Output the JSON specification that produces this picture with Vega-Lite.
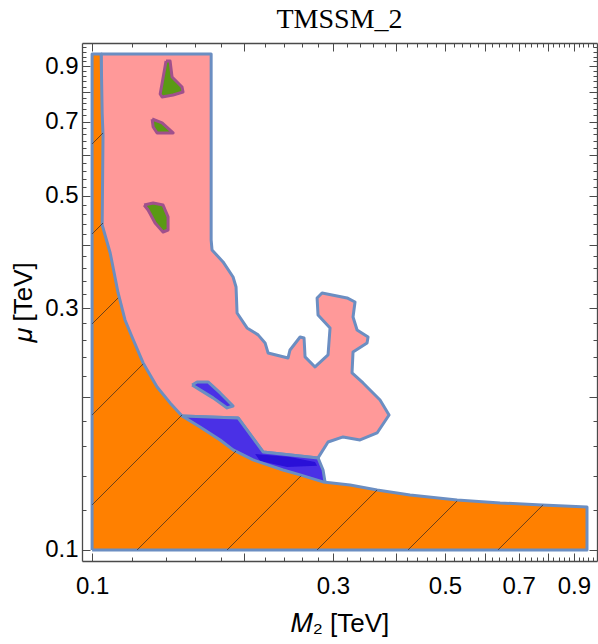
{
  "$schema": "https://vega.github.io/schema/vega-lite/v6.json",
  "autosize": "none",
  "width": 515,
  "height": 518,
  "padding": {"left": 82, "top": 43, "right": 1, "bottom": 83},
  "background": "white",
  "config": {
    "view": {"stroke": null},
    "axis": {
      "domainColor": "#4a4a4a",
      "domainWidth": 1.3,
      "tickColor": "#4a4a4a",
      "tickWidth": 1,
      "grid": false,
      "labelFont": "Liberation Sans",
      "labelFontSize": 24,
      "labelColor": "black",
      "titleFont": "Liberation Sans",
      "titleFontSize": 26,
      "titleFontWeight": "normal",
      "titleColor": "black",
      "labelOverlap": false,
      "labelFlush": false,
      "zindex": 1
    }
  },
  "title": {
    "text": "TMSSM_2",
    "font": "Liberation Serif",
    "fontSize": 28,
    "fontWeight": "normal",
    "color": "black",
    "offset": 1
  },
  "datasets": {
    "poly": [
      {"id": "pink", "i": 0, "x": 0.1042, "y": 0.9512},
      {"id": "pink", "i": 1, "x": 0.1721, "y": 0.9512},
      {"id": "pink", "i": 2, "x": 0.1721, "y": 0.4087},
      {"id": "pink", "i": 3, "x": 0.1728, "y": 0.3906},
      {"id": "pink", "i": 4, "x": 0.1817, "y": 0.3699},
      {"id": "pink", "i": 5, "x": 0.1902, "y": 0.3455},
      {"id": "pink", "i": 6, "x": 0.1928, "y": 0.3302},
      {"id": "pink", "i": 7, "x": 0.1937, "y": 0.2934},
      {"id": "pink", "i": 8, "x": 0.2027, "y": 0.2741},
      {"id": "pink", "i": 9, "x": 0.2132, "y": 0.2656},
      {"id": "pink", "i": 10, "x": 0.2201, "y": 0.2561},
      {"id": "pink", "i": 11, "x": 0.2231, "y": 0.2447},
      {"id": "pink", "i": 12, "x": 0.2444, "y": 0.2392},
      {"id": "pink", "i": 13, "x": 0.2466, "y": 0.248},
      {"id": "pink", "i": 14, "x": 0.2582, "y": 0.2631},
      {"id": "pink", "i": 15, "x": 0.2629, "y": 0.2619},
      {"id": "pink", "i": 16, "x": 0.2641, "y": 0.2403},
      {"id": "pink", "i": 17, "x": 0.2764, "y": 0.2296},
      {"id": "pink", "i": 18, "x": 0.2933, "y": 0.2425},
      {"id": "pink", "i": 19, "x": 0.296, "y": 0.2741},
      {"id": "pink", "i": 20, "x": 0.2802, "y": 0.2908},
      {"id": "pink", "i": 21, "x": 0.279, "y": 0.3141},
      {"id": "pink", "i": 22, "x": 0.2854, "y": 0.3213},
      {"id": "pink", "i": 23, "x": 0.3199, "y": 0.3141},
      {"id": "pink", "i": 24, "x": 0.3317, "y": 0.3084},
      {"id": "pink", "i": 25, "x": 0.3287, "y": 0.2881},
      {"id": "pink", "i": 26, "x": 0.3348, "y": 0.2716},
      {"id": "pink", "i": 27, "x": 0.352, "y": 0.2631},
      {"id": "pink", "i": 28, "x": 0.3504, "y": 0.2561},
      {"id": "pink", "i": 29, "x": 0.3287, "y": 0.2458},
      {"id": "pink", "i": 30, "x": 0.3272, "y": 0.2234},
      {"id": "pink", "i": 31, "x": 0.3441, "y": 0.2135},
      {"id": "pink", "i": 32, "x": 0.3718, "y": 0.1976},
      {"id": "pink", "i": 33, "x": 0.3874, "y": 0.1846},
      {"id": "pink", "i": 34, "x": 0.3668, "y": 0.1701},
      {"id": "pink", "i": 35, "x": 0.3394, "y": 0.1648},
      {"id": "pink", "i": 36, "x": 0.3141, "y": 0.1671},
      {"id": "pink", "i": 37, "x": 0.2933, "y": 0.1633},
      {"id": "pink", "i": 38, "x": 0.2802, "y": 0.1519},
      {"id": "pink", "i": 39, "x": 0.2181, "y": 0.1561},
      {"id": "pink", "i": 40, "x": 0.1946, "y": 0.1821},
      {"id": "pink", "i": 41, "x": 0.1507, "y": 0.1838},
      {"id": "pink", "i": 42, "x": 0.1042, "y": 0.1838},
      {"id": "pink", "i": 43, "x": 0.1042, "y": 0.9512},

      {"id": "blue1", "i": 0, "x": 0.1507, "y": 0.1838},
      {"id": "blue1", "i": 1, "x": 0.1946, "y": 0.1821},
      {"id": "blue1", "i": 2, "x": 0.2181, "y": 0.1561},
      {"id": "blue1", "i": 3, "x": 0.2802, "y": 0.1519},
      {"id": "blue1", "i": 4, "x": 0.2867, "y": 0.1438},
      {"id": "blue1", "i": 5, "x": 0.2893, "y": 0.1362},
      {"id": "blue1", "i": 6, "x": 0.2582, "y": 0.1313},
      {"id": "blue1", "i": 7, "x": 0.1507, "y": 0.1648},
      {"id": "blue1", "i": 8, "x": 0.1507, "y": 0.1838},

      {"id": "blue2", "i": 0, "x": 0.1578, "y": 0.2116},
      {"id": "blue2", "i": 1, "x": 0.1614, "y": 0.2145},
      {"id": "blue2", "i": 2, "x": 0.1697, "y": 0.2145},
      {"id": "blue2", "i": 3, "x": 0.1793, "y": 0.204},
      {"id": "blue2", "i": 4, "x": 0.1902, "y": 0.1923},
      {"id": "blue2", "i": 5, "x": 0.1851, "y": 0.1906},
      {"id": "blue2", "i": 6, "x": 0.1736, "y": 0.1995},
      {"id": "blue2", "i": 7, "x": 0.1636, "y": 0.2069},
      {"id": "blue2", "i": 8, "x": 0.1578, "y": 0.2116},

      {"id": "stripe", "i": 0, "x": 0.2103, "y": 0.1547},
      {"id": "stripe", "i": 1, "x": 0.2466, "y": 0.1526},
      {"id": "stripe", "i": 2, "x": 0.2764, "y": 0.1491},
      {"id": "stripe", "i": 3, "x": 0.279, "y": 0.1465},
      {"id": "stripe", "i": 4, "x": 0.2433, "y": 0.1458},
      {"id": "stripe", "i": 5, "x": 0.2151, "y": 0.1498},
      {"id": "stripe", "i": 6, "x": 0.2103, "y": 0.1547},

      {"id": "orange", "i": 0, "x": 0.1, "y": 0.1},
      {"id": "orange", "i": 1, "x": 0.1, "y": 0.9512},
      {"id": "orange", "i": 2, "x": 0.1042, "y": 0.9512},
      {"id": "orange", "i": 3, "x": 0.1047, "y": 0.7277},
      {"id": "orange", "i": 4, "x": 0.1051, "y": 0.6585},
      {"id": "orange", "i": 5, "x": 0.1047, "y": 0.4375},
      {"id": "orange", "i": 6, "x": 0.1086, "y": 0.3853},
      {"id": "orange", "i": 7, "x": 0.1126, "y": 0.3213},
      {"id": "orange", "i": 8, "x": 0.1162, "y": 0.2842},
      {"id": "orange", "i": 9, "x": 0.12, "y": 0.2631},
      {"id": "orange", "i": 10, "x": 0.1262, "y": 0.2338},
      {"id": "orange", "i": 11, "x": 0.1345, "y": 0.2096},
      {"id": "orange", "i": 12, "x": 0.1427, "y": 0.195},
      {"id": "orange", "i": 13, "x": 0.1507, "y": 0.1838},
      {"id": "orange", "i": 14, "x": 0.1636, "y": 0.1748},
      {"id": "orange", "i": 15, "x": 0.1793, "y": 0.1648},
      {"id": "orange", "i": 16, "x": 0.1902, "y": 0.1575},
      {"id": "orange", "i": 17, "x": 0.2084, "y": 0.1505},
      {"id": "orange", "i": 18, "x": 0.2389, "y": 0.1438},
      {"id": "orange", "i": 19, "x": 0.2582, "y": 0.1406},
      {"id": "orange", "i": 20, "x": 0.2867, "y": 0.1362},
      {"id": "orange", "i": 21, "x": 0.3243, "y": 0.1343},
      {"id": "orange", "i": 22, "x": 0.3668, "y": 0.1313},
      {"id": "orange", "i": 23, "x": 0.4263, "y": 0.1284},
      {"id": "orange", "i": 24, "x": 0.5283, "y": 0.1255},
      {"id": "orange", "i": 25, "x": 0.6428, "y": 0.1238},
      {"id": "orange", "i": 26, "x": 0.7783, "y": 0.1227},
      {"id": "orange", "i": 27, "x": 0.9554, "y": 0.1216},
      {"id": "orange", "i": 28, "x": 0.9554, "y": 0.1},
      {"id": "orange", "i": 29, "x": 0.1, "y": 0.1},

      {"id": "g1", "i": 0, "x": 0.1401, "y": 0.9214},
      {"id": "g1", "i": 1, "x": 0.1427, "y": 0.9214},
      {"id": "g1", "i": 2, "x": 0.144, "y": 0.8569},
      {"id": "g1", "i": 3, "x": 0.1507, "y": 0.8188},
      {"id": "g1", "i": 4, "x": 0.1514, "y": 0.8005},
      {"id": "g1", "i": 5, "x": 0.1447, "y": 0.7897},
      {"id": "g1", "i": 6, "x": 0.1376, "y": 0.7825},
      {"id": "g1", "i": 7, "x": 0.1364, "y": 0.7933},
      {"id": "g1", "i": 8, "x": 0.1382, "y": 0.853},
      {"id": "g1", "i": 9, "x": 0.1401, "y": 0.9214},

      {"id": "g2", "i": 0, "x": 0.1315, "y": 0.7081},
      {"id": "g2", "i": 1, "x": 0.1376, "y": 0.6954},
      {"id": "g2", "i": 2, "x": 0.1447, "y": 0.6645},
      {"id": "g2", "i": 3, "x": 0.1345, "y": 0.6645},
      {"id": "g2", "i": 4, "x": 0.1321, "y": 0.6828},
      {"id": "g2", "i": 5, "x": 0.1315, "y": 0.7081},

      {"id": "g3", "i": 0, "x": 0.1268, "y": 0.4791},
      {"id": "g3", "i": 1, "x": 0.1321, "y": 0.4835},
      {"id": "g3", "i": 2, "x": 0.1382, "y": 0.4791},
      {"id": "g3", "i": 3, "x": 0.1414, "y": 0.4538},
      {"id": "g3", "i": 4, "x": 0.1414, "y": 0.4277},
      {"id": "g3", "i": 5, "x": 0.1382, "y": 0.4238},
      {"id": "g3", "i": 6, "x": 0.1333, "y": 0.4415},
      {"id": "g3", "i": 7, "x": 0.1291, "y": 0.4684},
      {"id": "g3", "i": 8, "x": 0.1268, "y": 0.4791}
    ],
    "hatch": [
      {"id": "h0", "i": 0, "x": 0.1, "y": 0.6321}, {"id": "h0", "i": 1, "x": 0.1051, "y": 0.6645},
      {"id": "h1", "i": 0, "x": 0.1, "y": 0.42}, {"id": "h1", "i": 1, "x": 0.1051, "y": 0.4415},
      {"id": "h2", "i": 0, "x": 0.1, "y": 0.2792}, {"id": "h2", "i": 1, "x": 0.1126, "y": 0.3141},
      {"id": "h3", "i": 0, "x": 0.1, "y": 0.1846}, {"id": "h3", "i": 1, "x": 0.1262, "y": 0.2327},
      {"id": "h4", "i": 0, "x": 0.1, "y": 0.1227}, {"id": "h4", "i": 1, "x": 0.1507, "y": 0.1846},
      {"id": "h5", "i": 0, "x": 0.1228, "y": 0.1}, {"id": "h5", "i": 1, "x": 0.1928, "y": 0.1568},
      {"id": "h6", "i": 0, "x": 0.1851, "y": 0.1}, {"id": "h6", "i": 1, "x": 0.2593, "y": 0.14},
      {"id": "h7", "i": 0, "x": 0.279, "y": 0.1}, {"id": "h7", "i": 1, "x": 0.3668, "y": 0.1313},
      {"id": "h8", "i": 0, "x": 0.4224, "y": 0.1}, {"id": "h8", "i": 1, "x": 0.5283, "y": 0.1249},
      {"id": "h9", "i": 0, "x": 0.6367, "y": 0.1}, {"id": "h9", "i": 1, "x": 0.7818, "y": 0.1227}
    ]
  },
  "encoding": {
    "x": {"field": "x", "type": "quantitative", "scale": {"type": "log", "domain": [0.0955, 1.0], "nice": false, "zero": false}, "axis": null},
    "y": {"field": "y", "type": "quantitative", "scale": {"type": "log", "domain": [0.0951, 1.0], "nice": false, "zero": false}, "axis": null},
    "order": {"field": "i", "type": "quantitative"},
    "detail": {"field": "id", "type": "nominal"}
  },
  "layer": [
    {
      "data": {"name": "poly"},
      "transform": [{"filter": "datum.id === 'pink'"}],
      "mark": {"type": "line", "fill": "#ff9999", "stroke": "#6b8ec2", "strokeWidth": 3, "strokeJoin": "round", "interpolate": "linear"},
      "encoding": {
        "x": {"field": "x", "type": "quantitative", "scale": {"type": "log", "domain": [0.0955, 1.0], "nice": false, "zero": false},
          "axis": {"orient": "bottom", "title": "𝑀₂ [TeV]", "values": [0.1,0.12,0.14,0.16,0.18,0.2,0.22,0.24,0.26,0.28,0.3,0.32,0.34,0.36,0.38,0.4,0.42,0.44,0.46,0.48,0.5,0.52,0.54,0.56,0.58,0.6,0.62,0.64,0.66,0.68,0.7,0.72,0.74,0.76,0.78,0.8,0.82,0.84,0.86,0.88,0.9,0.92,0.94,0.96,0.98],
            "tickSize": {"condition": {"test": "abs(datum.value*10 - round(datum.value*10)) < 0.001", "value": -8}, "value": -4},
            "labelExpr": "abs(datum.value*10 - round(datum.value*10)) < 0.001 && round(datum.value*10) % 2 == 1 ? format(datum.value, '.1f') : ''",
            "labelPadding": 21, "titlePadding": 8}},
        "y": {"field": "y", "type": "quantitative", "scale": {"type": "log", "domain": [0.0951, 1.0], "nice": false, "zero": false},
          "axis": {"orient": "left", "title": "𝜇 [TeV]", "values": [0.1,0.12,0.14,0.16,0.18,0.2,0.22,0.24,0.26,0.28,0.3,0.32,0.34,0.36,0.38,0.4,0.42,0.44,0.46,0.48,0.5,0.52,0.54,0.56,0.58,0.6,0.62,0.64,0.66,0.68,0.7,0.72,0.74,0.76,0.78,0.8,0.82,0.84,0.86,0.88,0.9,0.92,0.94,0.96,0.98],
            "tickSize": {"condition": {"test": "abs(datum.value*10 - round(datum.value*10)) < 0.001", "value": -8}, "value": -4},
            "labelExpr": "abs(datum.value*10 - round(datum.value*10)) < 0.001 && round(datum.value*10) % 2 == 1 ? format(datum.value, '.1f') : ''",
            "labelPadding": 12, "titlePadding": 8}}
      }
    },
    {
      "data": {"name": "poly"},
      "transform": [{"filter": "datum.id === 'blue1' || datum.id === 'blue2'"}],
      "mark": {"type": "line", "fill": "#4a30e6", "stroke": "#6b8ec2", "strokeWidth": 3, "strokeJoin": "round"}
    },
    {
      "data": {"name": "poly"},
      "transform": [{"filter": "datum.id === 'stripe'"}],
      "mark": {"type": "line", "fill": "#2a10d8", "stroke": null, "strokeWidth": 0}
    },
    {
      "data": {"name": "poly"},
      "transform": [{"filter": "datum.id === 'orange'"}],
      "mark": {"type": "line", "fill": "#ff8000", "stroke": "#6b8ec2", "strokeWidth": 3, "strokeJoin": "round"},
      "encoding": {
        "x": {"field": "x", "type": "quantitative", "scale": {"type": "log", "domain": [0.0955, 1.0], "nice": false, "zero": false},
          "axis": {"orient": "top", "title": null, "labels": false, "values": [0.1,0.12,0.14,0.16,0.18,0.2,0.22,0.24,0.26,0.28,0.3,0.32,0.34,0.36,0.38,0.4,0.42,0.44,0.46,0.48,0.5,0.52,0.54,0.56,0.58,0.6,0.62,0.64,0.66,0.68,0.7,0.72,0.74,0.76,0.78,0.8,0.82,0.84,0.86,0.88,0.9,0.92,0.94,0.96,0.98],
            "tickSize": {"condition": {"test": "abs(datum.value*10 - round(datum.value*10)) < 0.001", "value": -8}, "value": -4}}},
        "y": {"field": "y", "type": "quantitative", "scale": {"type": "log", "domain": [0.0951, 1.0], "nice": false, "zero": false},
          "axis": {"orient": "right", "title": null, "labels": false, "values": [0.1,0.12,0.14,0.16,0.18,0.2,0.22,0.24,0.26,0.28,0.3,0.32,0.34,0.36,0.38,0.4,0.42,0.44,0.46,0.48,0.5,0.52,0.54,0.56,0.58,0.6,0.62,0.64,0.66,0.68,0.7,0.72,0.74,0.76,0.78,0.8,0.82,0.84,0.86,0.88,0.9,0.92,0.94,0.96,0.98],
            "tickSize": {"condition": {"test": "abs(datum.value*10 - round(datum.value*10)) < 0.001", "value": -8}, "value": -4}}}
      }
    },
    {
      "data": {"name": "hatch"},
      "mark": {"type": "line", "stroke": "#3a2a20", "strokeWidth": 1, "opacity": 0.75}
    },
    {
      "data": {"name": "poly"},
      "transform": [{"filter": "datum.id === 'g1' || datum.id === 'g2' || datum.id === 'g3'"}],
      "mark": {"type": "line", "fill": "#5a9a14", "stroke": "#a0508c", "strokeWidth": 3, "strokeJoin": "round"}
    }
  ],
  "resolve": {"axis": {"x": "independent", "y": "independent"}}
}
